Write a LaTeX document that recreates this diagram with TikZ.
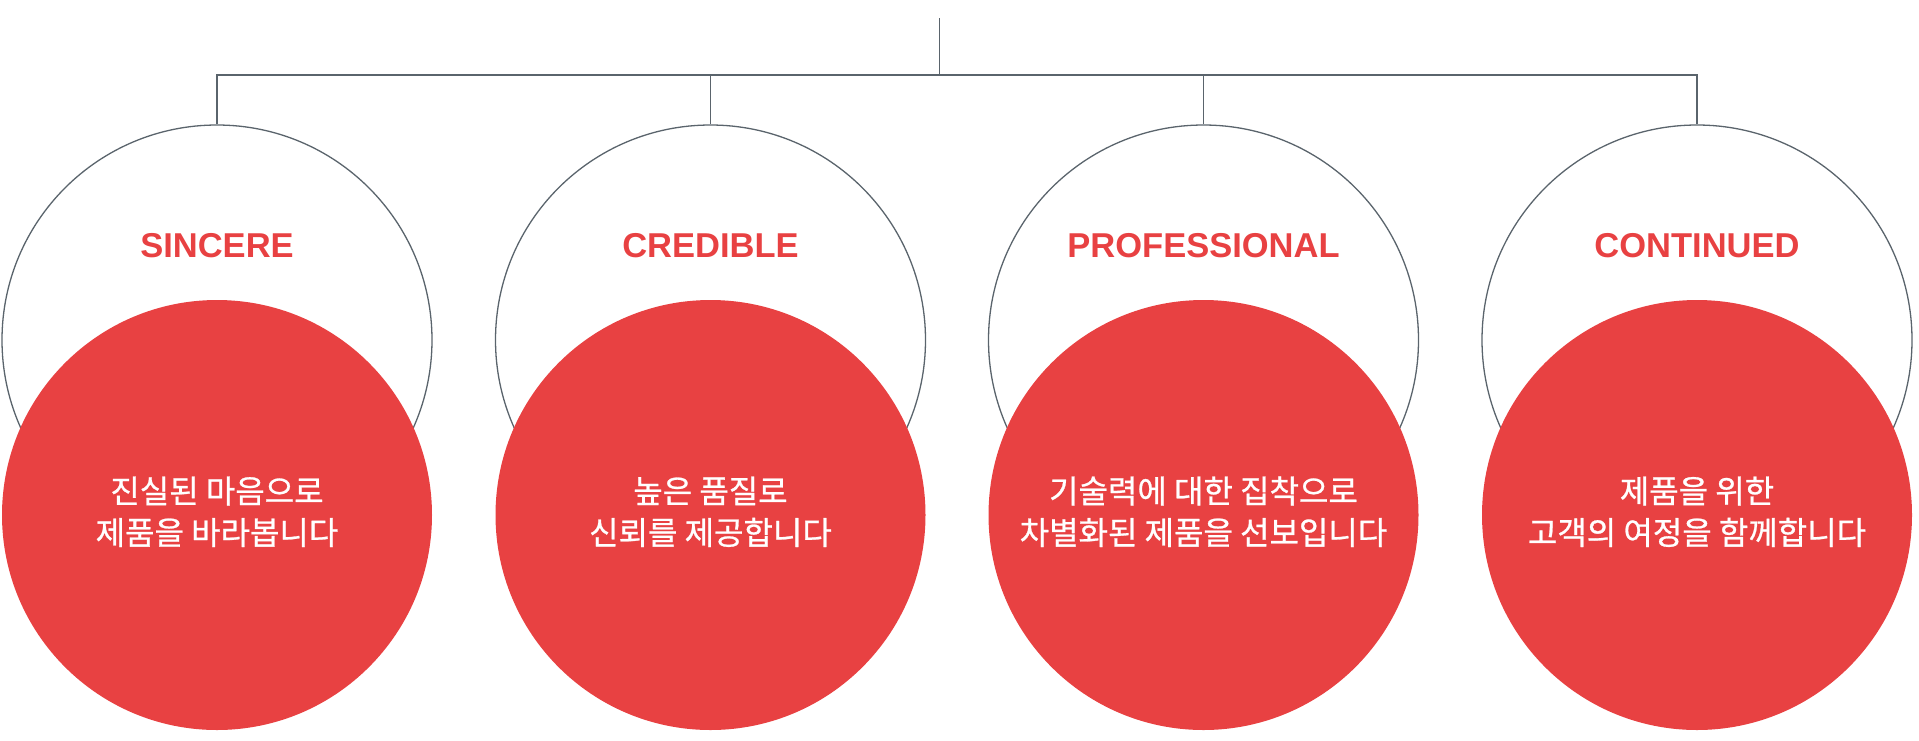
\documentclass[tikz,border=0pt]{standalone}
\usepackage{fontspec}
\setmainfont{Liberation Sans}
\newfontfamily\krfont[FakeBold=0.8]{Noto Sans CJK KR}
\definecolor{brandred}{HTML}{E84142}
\definecolor{linegrey}{HTML}{5A646C}
\begin{document}
\begin{tikzpicture}[x=1pt,y=-1pt,
  ring/.style={circle, draw=linegrey, line width=1.3pt, minimum size=430pt, inner sep=0pt},
  disc/.style={circle, fill=brandred, minimum size=430pt, inner sep=0pt},
  title/.style={anchor=base, text=brandred, font=\fontsize{34.5}{40}\selectfont\bfseries, inner sep=0pt},
  kor/.style={anchor=base, text=white, font=\krfont\fontsize{32}{40}\selectfont, inner sep=0pt},
  tree/.style={draw=linegrey, line width=1.8pt}]
\useasboundingbox (0,0) rectangle (1919,740);
\foreach \i/\cx in {1/217, 2/710.5, 3/1203.5, 4/1697}{
  \node[ring] (o\i) at (\cx,340) {};
}
\foreach \i/\cx in {1/217, 2/710.5, 3/1203.5, 4/1697}{
  \node[disc] (r\i) at (\cx,515) {};
}
\coordinate (root) at (939.5,18);
\coordinate (hub) at (939.5,75);
\draw[tree] (root) -- (hub);
\draw[tree] (o1.north) |- (hub);
\draw[tree] (o4.north) |- (hub);
\draw[tree] (o2.north) -- (o2.north |- hub);
\draw[tree] (o3.north) -- (o3.north |- hub);
\node[title] (t1) at (o1.center |- 0,257.5) {SINCERE};
\node[title] (t2) at (o2.center |- 0,257.5) {CREDIBLE};
\node[title] (t3) at (o3.center |- 0,257.5) {PROFESSIONAL};
\node[title] (t4) at (o4.center |- 0,257.5) {CONTINUED};
\node[kor] (a1) at (r1.center |- 0,503) {진실된 마음으로};
\node[kor] (b1) at (r1.center |- 0,544.5) {제품을 바라봅니다};
\node[kor] (a2) at (r2.center |- 0,503) {높은 품질로};
\node[kor] (b2) at (r2.center |- 0,544.5) {신뢰를 제공합니다};
\node[kor] (a3) at (r3.center |- 0,503) {기술력에 대한 집착으로};
\node[kor] (b3) at (r3.center |- 0,544.5) {차별화된 제품을 선보입니다};
\node[kor] (a4) at (r4.center |- 0,503) {제품을 위한};
\node[kor] (b4) at (r4.center |- 0,544.5) {고객의 여정을 함께합니다};
\end{tikzpicture}
\end{document}
